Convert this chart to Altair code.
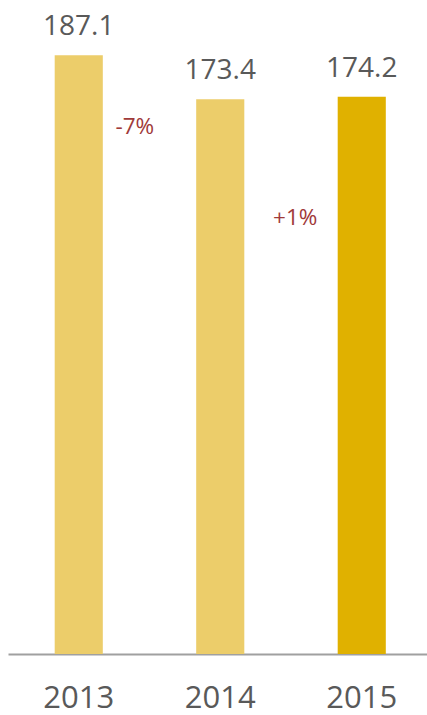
import altair as alt
import pandas as pd

years = ["2013", "2014", "2015"]
values = [187.1, 173.4, 174.2]
labels = ["187.1", "173.4", "174.2"]
bar_colors = ["#ECCD6A", "#ECCD6A", "#E0B100"]

changes = ["-7%", "+1%"]
change_from = ["2013", "2014"]
change_anchor = [173.4, 174.2]

df = pd.DataFrame({"year": years, "value": values, "label": labels, "color": bar_colors})

x_scale = alt.Scale(domain=years, range=[0, 424.5], paddingInner=0.66, paddingOuter=0.33)
y_scale = alt.Scale(domain=[0, 204.4], nice=False, zero=True)

base = alt.Chart(df)

bars = base.mark_bar().encode(
    x=alt.X("year:N", scale=x_scale, sort=years,
            axis=alt.Axis(title=None, ticks=False, tickSize=0, labelPadding=29, labelFontSize=31,
                          labelFont="Open Sans", labelColor="#595959", domainColor="#A0A0A0",
                          domainWidth=2, labelAngle=0, grid=False)),
    y=alt.Y("value:Q", scale=y_scale, axis=None),
    color=alt.Color("color:N", scale=None),
)

value_text = base.mark_text(font="Open Sans", fontSize=28, color="#595959",
                            baseline="alphabetic", dy=-20).encode(
    x=alt.X("year:N", scale=x_scale, sort=years),
    y=alt.Y("value:Q", scale=y_scale),
    text="label:N",
)

c1 = alt.Chart(pd.DataFrame({"t": [changes[0]]})).mark_text(
    font="Open Sans", fontSize=22.5, color="#A03A3A", baseline="alphabetic", dx=56, dy=35
).encode(
    x=alt.datum(change_from[0], type="nominal", scale=x_scale),
    y=alt.datum(change_anchor[0], scale=y_scale),
    text="t:N",
)

c2 = alt.Chart(pd.DataFrame({"t": [changes[1]]})).mark_text(
    font="Open Sans", fontSize=22.5, color="#A03A3A", baseline="alphabetic", dx=75, dy=128
).encode(
    x=alt.datum(change_from[1], type="nominal", scale=x_scale),
    y=alt.datum(change_anchor[1], scale=y_scale),
    text="t:N",
)

chart = alt.layer(bars, value_text, c1, c2).properties(
    width=419, height=654,
    autosize=alt.AutoSizeParams(type="none"),
    padding={"left": 8, "top": 0, "right": 0, "bottom": 61},
).configure_view(stroke=None)

chart.save("out.html", embed_options={"renderer": "svg", "actions": False})
